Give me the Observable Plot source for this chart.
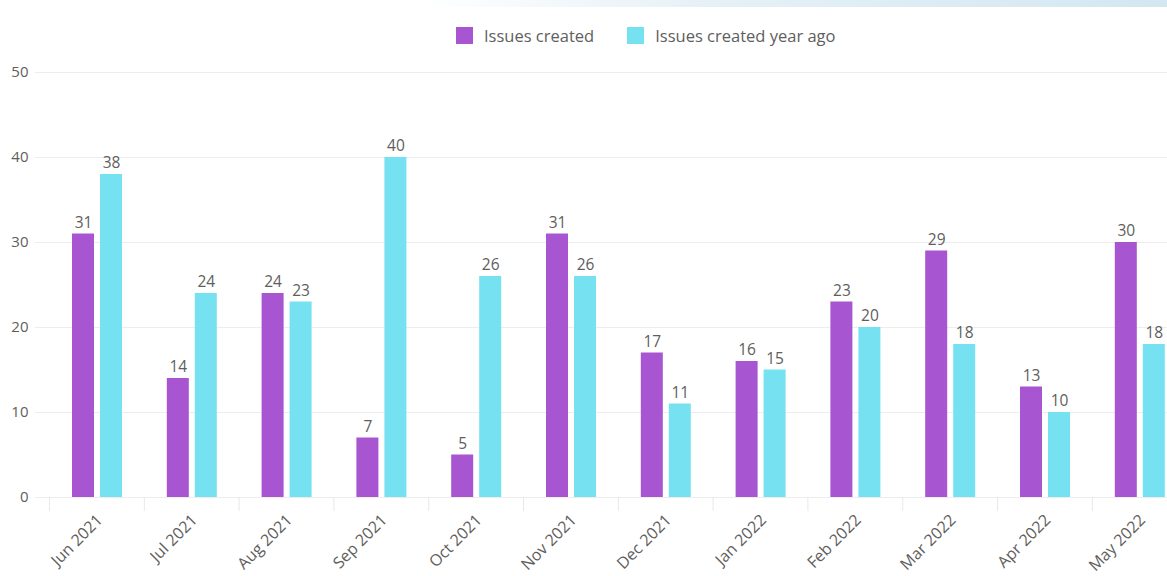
<!DOCTYPE html>
<html>
<head>
<meta charset="utf-8">
<script src="https://cdn.jsdelivr.net/npm/d3@7"></script>
<script src="https://cdn.jsdelivr.net/npm/@observablehq/plot@0.6"></script>
<style>
  html, body { margin: 0; padding: 0; background: #fff; overflow: hidden; width: 1167px; height: 576px; }
  body { font-family: "Segoe UI", "Open Sans", sans-serif; position: relative; }
  #topbar { position: absolute; left: 0; top: 0; width: 1167px; height: 7px;
    background: linear-gradient(to right, #ffffff 0%, #ffffff 36%, #e6f1f7 60%, #d3e7f1 100%); }
  #legend { position: absolute; left: 456px; top: 24px; display: flex; align-items: center;
    font-size: 16.5px; color: #605E5C; }
  .item { display: flex; align-items: center; margin-right: 33px; }
  .sw { width: 17px; height: 17px; margin-right: 11px; }
  #chart { position: absolute; left: 0; top: 55px; width: 1190px; }
  #chart svg { max-width: none !important; width: 1190px; height: 521px; }
</style>
</head>
<body>
<div id="topbar"></div>
<div id="legend"></div>
<div id="chart"></div>
<script>
const months = ["Jun 2021","Jul 2021","Aug 2021","Sep 2021","Oct 2021","Nov 2021","Dec 2021","Jan 2022","Feb 2022","Mar 2022","Apr 2022","May 2022"];
const issuesCreated = [31,14,24,7,5,31,17,16,23,29,13,30];
const issuesCreatedYearAgo = [38,24,23,40,26,26,11,15,20,18,10,18];
const seriesNames = ["Issues created","Issues created year ago"];
const seriesColors = ["#A855D1","#76E2F1"];
const yTicks = [0,10,20,30,40,50];

const legend = document.getElementById("legend");
seriesNames.forEach((n, i) => {
  const it = document.createElement("div");
  it.className = "item";
  const sw = document.createElement("div");
  sw.className = "sw";
  sw.style.background = seriesColors[i];
  const t = document.createElement("span");
  t.textContent = n;
  it.appendChild(sw); it.appendChild(t);
  legend.appendChild(it);
});

const rowsA = months.map((m, i) => ({month: m, value: issuesCreated[i]}));
const rowsB = months.map((m, i) => ({month: m, value: issuesCreatedYearAgo[i]}));

const step = 94.8;
const x0 = 49;
const barW = 22;
const offA = 23, offB = 51;
const textColor = "#605E5C";

const chart = Plot.plot({
  width: 1190,
  height: 521,
  marginLeft: 35,
  marginRight: 0,
  marginTop: 17,
  marginBottom: 79,
  style: {fontFamily: "'Segoe UI', 'Open Sans', sans-serif", background: "transparent", overflow: "visible"},
  x: {domain: months, range: [x0, x0 + 12 * step], padding: 0, round: false, label: null},
  y: {domain: [0, 50], range: [442, 17], label: null},
  marks: [
    Plot.gridY(yTicks, {stroke: "#EDEDED", strokeOpacity: 1, strokeWidth: 1}),
    Plot.axisY(yTicks, {tickSize: 0, tickPadding: 7, fontSize: 15, fill: textColor, tickFormat: d => d, label: null}),
    Plot.axisX({tickSize: 14, stroke: "#E8E8E8", tickFormat: () => "", dx: -step / 2, label: null}),
    Plot.axisX({tickSize: 0, tickRotate: -45, tickPadding: 13, fontSize: 16, fill: textColor, label: null, dx: 3, dy: 7}),
    Plot.barY(rowsA, {x: "month", y: "value", fill: seriesColors[0], insetLeft: offA, insetRight: step - offA - barW}),
    Plot.barY(rowsB, {x: "month", y: "value", fill: seriesColors[1], insetLeft: offB, insetRight: step - offB - barW}),
    Plot.text(rowsA, {x: "month", y: "value", text: d => String(d.value), dx: offA + barW / 2 - step / 2, dy: -11, fontSize: 15.5, fill: textColor}),
    Plot.text(rowsB, {x: "month", y: "value", text: d => String(d.value), dx: offB + barW / 2 - step / 2, dy: -11, fontSize: 15.5, fill: textColor})
  ]
});
document.getElementById("chart").appendChild(chart);
</script>
</body>
</html>
